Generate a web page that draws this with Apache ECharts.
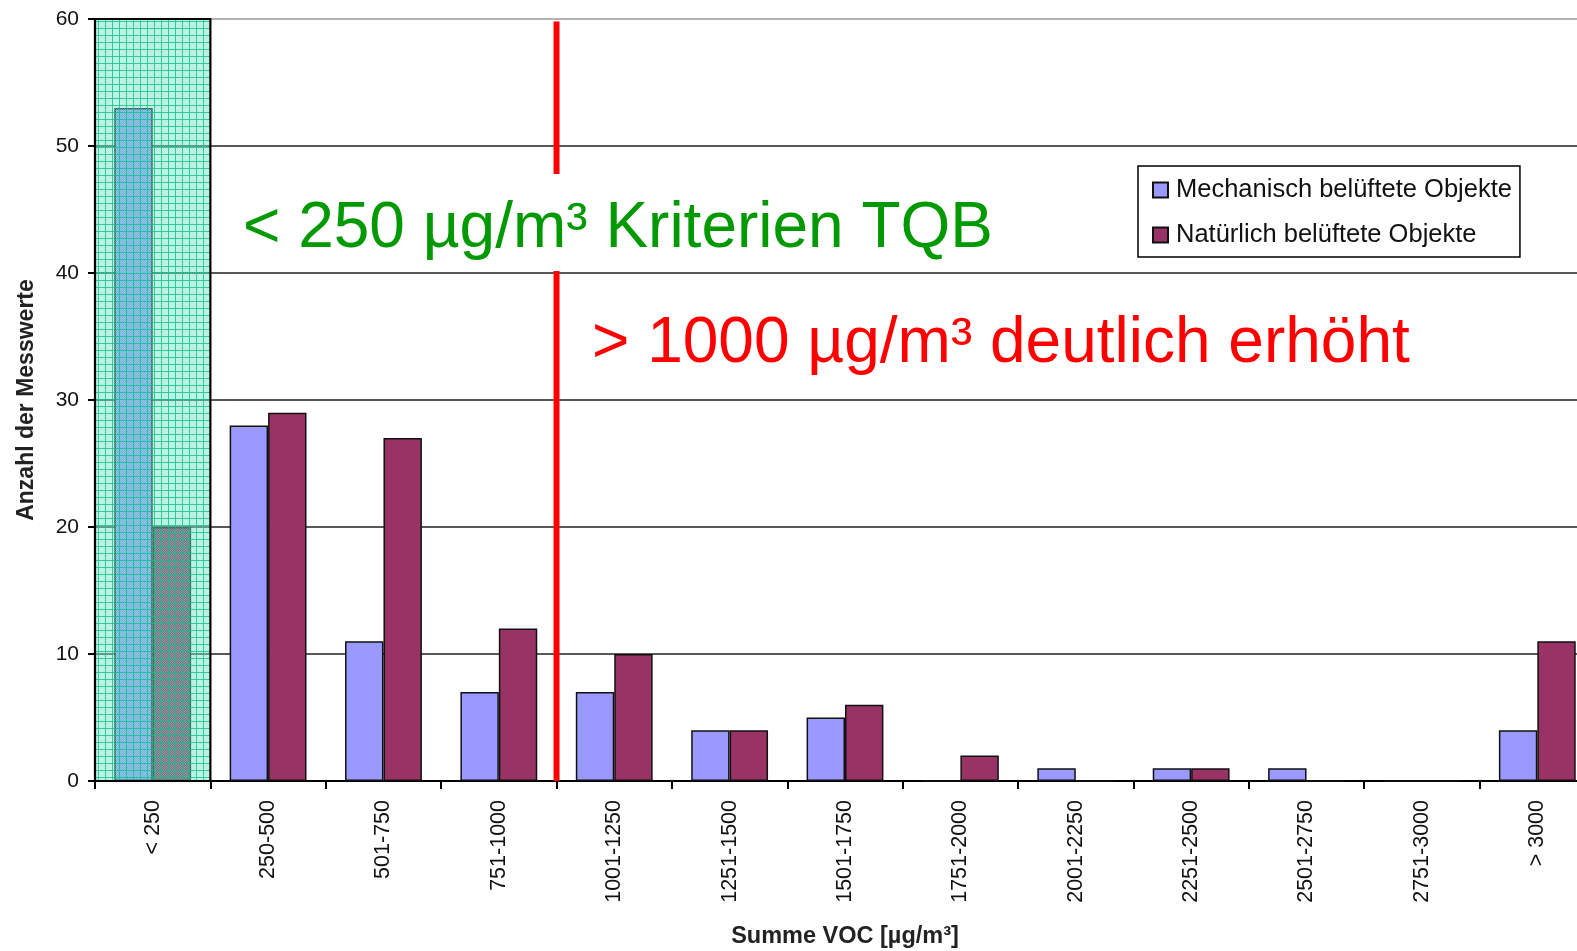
<!DOCTYPE html>
<html>
<head>
<meta charset="utf-8">
<title>Summe VOC – Anzahl der Messwerte</title>
<script src="https://cdn.jsdelivr.net/npm/echarts@6/dist/echarts.min.js"></script>
<style>
  html, body { margin: 0; padding: 0; background: #fff; }
  #chart { width: 1577px; height: 951px; }
</style>
</head>
<body>
<div id="chart"></div>
<script>
// VOC concentration classes (µg/m³)
const categories = ['< 250', '250-500', '501-750', '751-1000', '1001-1250', '1251-1500',
  '1501-1750', '1751-2000', '2001-2250', '2251-2500', '2501-2750', '2751-3000', '> 3000'];

// number of measurements per class
const mechanischValues = [53, 28, 11, 7, 7, 4, 5, 0, 1, 1, 1, 0, 4];
const natuerlichValues = [20, 29, 27, 12, 10, 4, 6, 2, 0, 1, 0, 0, 11];

const seriesNames = ['Mechanisch belüftete Objekte', 'Natürlich belüftete Objekte'];

// class-band positions: the TQB band covers the first class, the limit sits after class 4
const tqbBand = [[0, 1]];
const limitBoundary = [[4, 59.8]];

const FONT = '"Liberation Sans", Arial, sans-serif';

// tiled hatch used for the highlighted TQB band
function makeHatch() {
  const c = document.createElement('canvas');
  c.width = 7; c.height = 7;
  const g = c.getContext('2d');
  g.fillStyle = 'rgba(70,220,175,0.40)';
  g.fillRect(0, 0, 7, 7);
  g.fillStyle = 'rgba(255,255,255,0.22)';
  for (let y = 1; y < 7; y++) {
    for (let x = 1; x < 7; x++) {
      if ((x + y) % 2 === 0) g.fillRect(x, y, 1, 1);
    }
  }
  g.fillStyle = 'rgba(10,195,145,0.80)';
  g.fillRect(0, 0, 7, 1);
  g.fillRect(0, 0, 1, 7);
  return c;
}
const hatch = makeHatch();

const chart = echarts.init(document.getElementById('chart'), null, { renderer: 'canvas' });

const gridColors = ['#222', '#222', '#222', '#222', '#222', '#222', '#9a9a9a'];

chart.setOption({
  backgroundColor: '#fff',
  animation: false,
  textStyle: { fontFamily: FONT },
  // the plot runs a little past the right edge of the canvas
  grid: { left: 95, top: 19, width: 1500, height: 762, containLabel: false, outerBoundsMode: 'none' },
  legend: {
    orient: 'vertical',
    left: 1138,
    top: 166,
    padding: [11, 8, 9, 14],
    itemWidth: 15,
    itemHeight: 15,
    itemGap: 19,
    icon: 'rect',
    backgroundColor: '#fff',
    borderColor: '#000',
    borderWidth: 1.5,
    textStyle: { fontSize: 25.5, color: '#111', fontFamily: FONT, lineHeight: 26, padding: [0, 0, 0, 3] },
    data: seriesNames
  },
  xAxis: [{
    type: 'category',
    data: categories,
    boundaryGap: true,
    name: 'Summe VOC [µg/m³]',
    nameLocation: 'middle',
    nameGap: 144,
    nameTextStyle: { fontSize: 23.5, fontWeight: 'bold', color: '#222', fontFamily: FONT },
    axisLine: { show: true, lineStyle: { color: '#000', width: 2 } },
    axisTick: { show: true, length: 8, lineStyle: { color: '#000', width: 2 } },
    axisLabel: { rotate: 90, fontSize: 21.5, color: '#111', margin: 19, fontFamily: FONT },
    splitLine: { show: false }
  }, {
    // linear helper axis over the class slots (0..13) for band and limit line
    type: 'value',
    min: 0,
    max: 13,
    show: false,
    gridIndex: 0
  }],
  yAxis: {
    type: 'value',
    min: 0,
    max: 60,
    interval: 10,
    name: 'Anzahl der Messwerte',
    nameLocation: 'middle',
    nameRotate: 90,
    nameGap: 57,
    nameTextStyle: { fontSize: 23, fontWeight: 'bold', color: '#222', fontFamily: FONT },
    axisLine: { show: true, lineStyle: { color: '#000', width: 2 } },
    axisTick: { show: true, length: 7, lineStyle: { color: '#000', width: 2 } },
    axisLabel: { fontSize: 21, color: '#111', margin: 16, fontFamily: FONT },
    splitLine: { show: true, lineStyle: { color: gridColors, width: 1.6 } }
  },
  series: [{
    name: seriesNames[0],
    type: 'bar',
    data: mechanischValues,
    barGap: '0%',
    barCategoryGap: '33.4%',
    itemStyle: { color: '#9999ff', borderColor: '#111', borderWidth: 1.5 },
    z: 2
  }, {
    name: seriesNames[1],
    type: 'bar',
    data: natuerlichValues,
    barGap: '0%',
    barCategoryGap: '33.4%',
    itemStyle: { color: '#993366', borderColor: '#111', borderWidth: 1.5 },
    z: 2
  }, {
    // TQB band (< 250 µg/m³), hatched overlay above the bars
    type: 'custom',
    xAxisIndex: 1,
    yAxisIndex: 0,
    data: tqbBand,
    z: 3,
    silent: true,
    renderItem: function (params, api) {
      const p0 = api.coord([api.value(0), 60]);
      const p1 = api.coord([api.value(1), 0]);
      return {
        type: 'rect',
        shape: { x: p0[0], y: p0[1], width: p1[0] - p0[0], height: p1[1] - p0[1] },
        style: { fill: { image: hatch, repeat: 'repeat' }, stroke: '#000', lineWidth: 2.2 }
      };
    }
  }, {
    // 1000 µg/m³ limit line between the classes 751-1000 and 1001-1250
    type: 'custom',
    xAxisIndex: 1,
    yAxisIndex: 0,
    data: limitBoundary,
    z: 4,
    silent: true,
    renderItem: function (params, api) {
      const top = api.coord([api.value(0), api.value(1)]);
      const bottom = api.coord([api.value(0), 0]);
      return {
        type: 'line',
        shape: { x1: top[0], y1: top[1], x2: bottom[0], y2: bottom[1] },
        style: { stroke: '#ff0000', lineWidth: 6 }
      };
    }
  }],
  graphic: [{
    type: 'rect',
    z: 50,
    shape: { x: 236, y: 174, width: 768, height: 97 },
    style: { fill: '#fff' },
    silent: true
  }, {
    type: 'text',
    z: 51,
    x: 243,
    y: 229,
    style: {
      text: '< 250 µg/m³ Kriterien TQB',
      font: '64px ' + FONT,
      fill: '#009900',
      verticalAlign: 'middle'
    },
    silent: true
  }, {
    type: 'text',
    z: 51,
    x: 592,
    y: 344,
    style: {
      text: '> 1000 µg/m³ deutlich erhöht',
      font: '64px ' + FONT,
      fill: '#ff0000',
      verticalAlign: 'middle'
    },
    silent: true
  }]
});
</script>
</body>
</html>
